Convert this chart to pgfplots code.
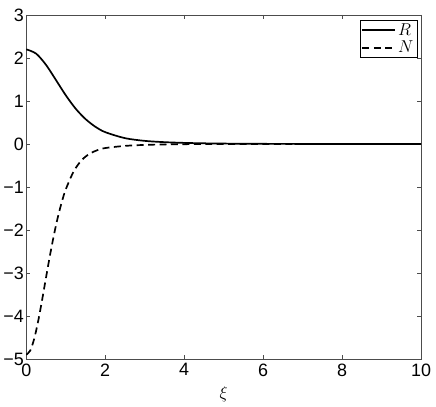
\documentclass[border=0pt]{standalone}
\usepackage{fontspec}
\setmainfont{Liberation Sans}
\usepackage{pgfplots}
\pgfplotsset{compat=1.18}
\begin{document}
\begin{tikzpicture}
\begin{axis}[
  scale only axis,
  width=397pt, height=346pt,
  xmin=0, xmax=10, ymin=-5, ymax=3,
  xtick={0,2,4,6,8,10},
  ytick={-5,-4,-3,-2,-1,0,1,2,3},
  yticklabels={−5,−4,−3,−2,−1,0,1,2,3},
  xticklabels={0,2,4,6,8,10},
  tick align=inside,
  major tick length=4pt,
  tick style={black!70, line width=0.5pt},
  axis line style={black!70, line width=0.6pt},
  ticklabel style={font=\fontsize{18}{20}\selectfont},
  xticklabel style={yshift=-1pt},
  yticklabel style={xshift=1pt},
  xlabel={$\xi$},
  xlabel style={font=\fontsize{18}{20}\selectfont, yshift=-4pt},
  legend style={at={(0.99,0.985)}, anchor=north east, draw=black,
    font=\fontsize{17}{17}\selectfont, inner sep=1.5pt, row sep=0pt,
    legend cell align=left},
  legend image code/.code={\draw[#1] (0pt,0pt) -- (33pt,0pt);},
  legend image post style={line width=2pt},
  clip=true,
]
\addplot[black, line width=1.7pt, smooth] coordinates {
(0,2.2) (0.25,2.10) (0.5,1.84) (0.75,1.49) (1,1.133) (1.25,0.822) (1.5,0.58)
(1.75,0.40) (2,0.275) (2.5,0.135) (3,0.072) (3.5,0.042) (4,0.025) (4.5,0.015)
(5,0.009) (6,0.003) (7,0.001) (8,0) (10,0)};
\addlegendentry{$R$}
\addplot[black, line width=1.7pt, dash pattern=on 7pt off 4.5pt, smooth] coordinates {
(0,-4.9) (0.1,-4.805) (0.2,-4.534) (0.3,-4.128) (0.4,-3.636) (0.5,-3.11)
(0.6,-2.595) (0.7,-2.121) (0.8,-1.704) (0.9,-1.351) (1.0,-1.059) (1.2,-0.64)
(1.4,-0.38) (1.6,-0.23) (1.8,-0.145) (2.0,-0.095) (2.5,-0.045) (3,-0.022)
(3.5,-0.011) (4,-0.005) (5,-0.001) (6,0) (10,0)};
\addlegendentry{$N$}
\end{axis}
\path (current axis.south west) ++(-24pt,-48pt) coordinate (bl);
\path (current axis.north east) ++(15pt,15pt) coordinate (tr);
\end{tikzpicture}
\end{document}
